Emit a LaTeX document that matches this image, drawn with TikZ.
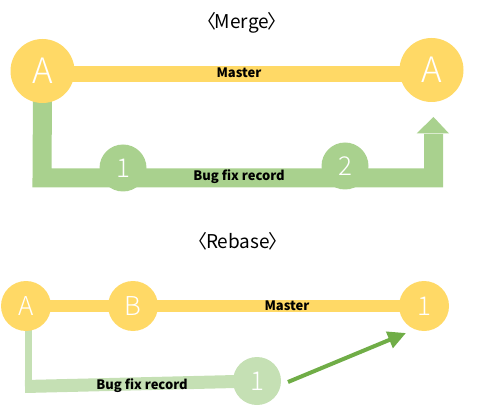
\documentclass[tikz,border=0pt]{standalone}
\usepackage{fontspec}
\setmainfont{Noto Sans CJK JP}
\newfontfamily\thinfont{Noto Sans CJK JP Light}
\usetikzlibrary{arrows.meta,calc}
\definecolor{ylw}{HTML}{FFD966}
\definecolor{grn}{HTML}{A9D18E}
\definecolor{lgrn}{HTML}{C5E0B4}
\definecolor{agrn}{HTML}{70AD47}
\tikzset{
  bigdot/.style={circle, fill=ylw, text=white, inner sep=0pt, minimum size=64pt, font=\thinfont\fontsize{35}{35}\selectfont},
  meddot/.style={circle, inner sep=0pt, minimum size=50pt, text=white, font=\thinfont\fontsize{26}{26}\selectfont},
  smalldot/.style={circle, fill=grn, text=white, inner sep=0pt, minimum size=47pt, font=\thinfont\fontsize{26}{26}\selectfont},
  lbl/.style={font=\fontsize{13}{13}\selectfont\bfseries, text=black, inner sep=0pt},
  ttl/.style={font=\fontsize{19}{19}\selectfont, text=black, inner sep=0pt},
}
\begin{document}
\begin{tikzpicture}[x=1pt,y=-1pt]
\useasboundingbox (0,0) rectangle (497,411);
% ---------- Merge ----------
\node[ttl] (t1) at (242,23) {〈\kern-1.5pt Merge\kern-1.5pt〉};
\coordinate (mA) at (42.5,71);
\coordinate (mB) at (431.5,70);
\coordinate (turnL) at (42,178);
\coordinate (turnR) at (433.5,178);
\coordinate (headbase) at (433.5,134);
\draw[ylw, line width=16] ($(mA)+(0,3)$) -- ($(mB)+(0,4)$);
\draw[grn, line width=19, line join=miter] ($(mA)+(0,20)$) -- (turnL) -- (turnR) -- (headbase);
\fill[grn] (416.5,133.5) -- (433.5,117) -- (449,133.5) -- cycle;
\node[bigdot] (A1) at (mA) {A};
\node[bigdot] (A2) at (mB) {A};
\node[smalldot] (c1) at (123,168) {1};
\node[smalldot] (c2) at (345,166) {2};
\node[lbl] (m1) at (239,73) {Master};
\node[lbl] (b1) at (239,177) {Bug fix record};
% ---------- Rebase ----------
\node[ttl] (t2) at (238,241) {〈\kern-1.5pt Rebase\kern-1.5pt〉};
\coordinate (rA) at (26,306);
\coordinate (rB) at (133,306);
\coordinate (rC) at (424,306);
\coordinate (rG) at (257,381);
\draw[ylw, line width=12] (rA) -- (rC);
\draw[lgrn, line width=7] (28.5,320) -- (28.5,386);
\draw[lgrn, line width=13] (25,386.5) -- (rG);
\node[meddot, fill=ylw] (RA) at (rA) {A};
\node[meddot, fill=ylw] (RB) at (rB) {B};
\node[meddot, fill=ylw] (RC) at (rC) {1};
\node[meddot, fill=lgrn, minimum size=48pt] (RG) at (rG) {1};
\node[lbl] (m2) at (287,306) {Master};
\node[lbl] (b2) at (142,386) {Bug fix record};
\coordinate (arrS) at (288,382);
\coordinate (arrE) at (406,333);
\draw[agrn, line width=4, -{Triangle[length=18pt,width=17pt]}] (arrS) -- (arrE);
\end{tikzpicture}
\end{document}
